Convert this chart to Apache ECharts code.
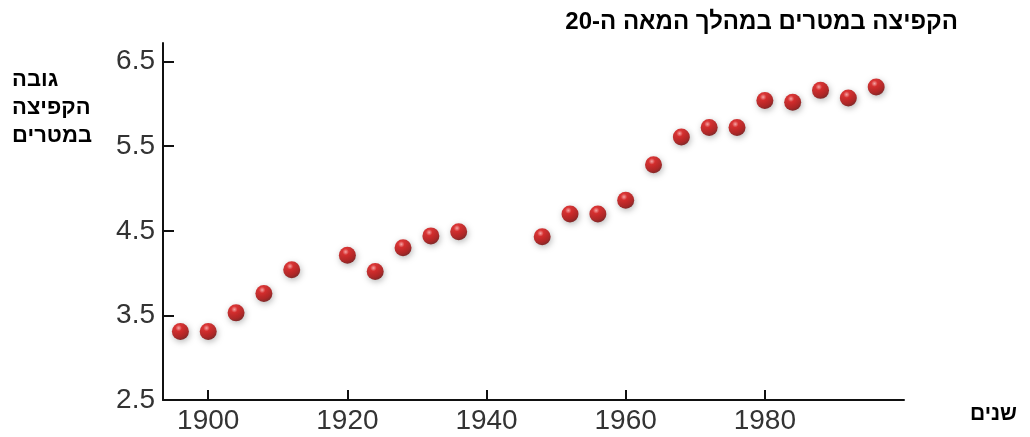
<!DOCTYPE html>
<html>
<head>
<meta charset="utf-8">
<script src="https://cdn.jsdelivr.net/npm/echarts@6/dist/echarts.min.js"></script>
<style>
html,body{margin:0;padding:0;background:#fff;}
#chart{width:1030px;height:437px;}
</style>
</head>
<body>
<div id="chart"></div>
<script>
const titleText = 'הקפיצה במטרים במהלך המאה ה-20';
const yAxisName = 'גובה\nהקפיצה\nבמטרים';
const xAxisName = 'שנים';
const years = [1896,1900,1904,1908,1912,1920,1924,1928,1932,1936,1948,1952,1956,1960,1964,1968,1972,1976,1980,1984,1988,1992,1996];
const heights = [3.31,3.31,3.53,3.76,4.04,4.21,4.02,4.30,4.44,4.49,4.43,4.70,4.70,4.86,5.28,5.61,5.72,5.72,6.04,6.02,6.16,6.07,6.20];
const xTicks = [1900,1920,1940,1960,1980];
const yTicks = [2.5,3.5,4.5,5.5,6.5];

const chart = echarts.init(document.getElementById('chart'), null, {renderer:'canvas'});
const font = "'Liberation Sans', Arial, sans-serif";
chart.setOption({
  backgroundColor:'#ffffff',
  animation:false,
  grid:{left:163, right:126, top:43, bottom:37, containLabel:false},
  xAxis:{
    type:'value', min:1893.5, max:2000,
    axisLine:{show:true, lineStyle:{color:'#111', width:2}},
    axisTick:{show:true, inside:true, length:10, lineStyle:{color:'#111', width:2}, customValues:xTicks},
    axisLabel:{show:true, customValues:xTicks, color:'#333', fontSize:28, fontFamily:font, margin:7,
      formatter:(v)=>String(v)},
    splitLine:{show:false}
  },
  yAxis:{
    type:'value', min:2.5, max:6.72,
    axisLine:{show:true, lineStyle:{color:'#111', width:2}},
    axisTick:{show:true, inside:true, length:11, lineStyle:{color:'#111', width:2}, customValues:yTicks},
    axisLabel:{show:true, customValues:yTicks, color:'#333', fontSize:28, fontFamily:font, margin:8,
      formatter:(v)=>v.toFixed(1)},
    splitLine:{show:false}
  },
  graphic:[
    {type:'text', right:72, top:10, style:{text:titleText, font:"bold 24px 'Liberation Sans', Arial, sans-serif", fill:'#000'}},
    {type:'text', right:938, top:66, style:{text:yAxisName, font:"bold 22px 'Liberation Sans', Arial, sans-serif", fill:'#000', align:'right', lineHeight:28}},
    {type:'text', right:13, top:404, style:{text:xAxisName, font:"bold 21px 'Liberation Sans', Arial, sans-serif", fill:'#000'}}
  ],
  series:[{
    type:'scatter',
    data:years.map((y,i)=>[y,heights[i]]),
    symbolSize:17,
    clip:false,
    itemStyle:{
      color:{type:'radial', x:0.4, y:0.3, r:0.75, colorStops:[
        {offset:0, color:'#ff9a9a'},
        {offset:0.25, color:'#d80808'},
        {offset:0.7, color:'#aa0000'},
        {offset:1, color:'#600000'}
      ]},
      shadowBlur:6, shadowColor:'rgba(0,0,0,0.35)', shadowOffsetX:1, shadowOffsetY:2
    }
  }]
});
</script>
</body>
</html>
